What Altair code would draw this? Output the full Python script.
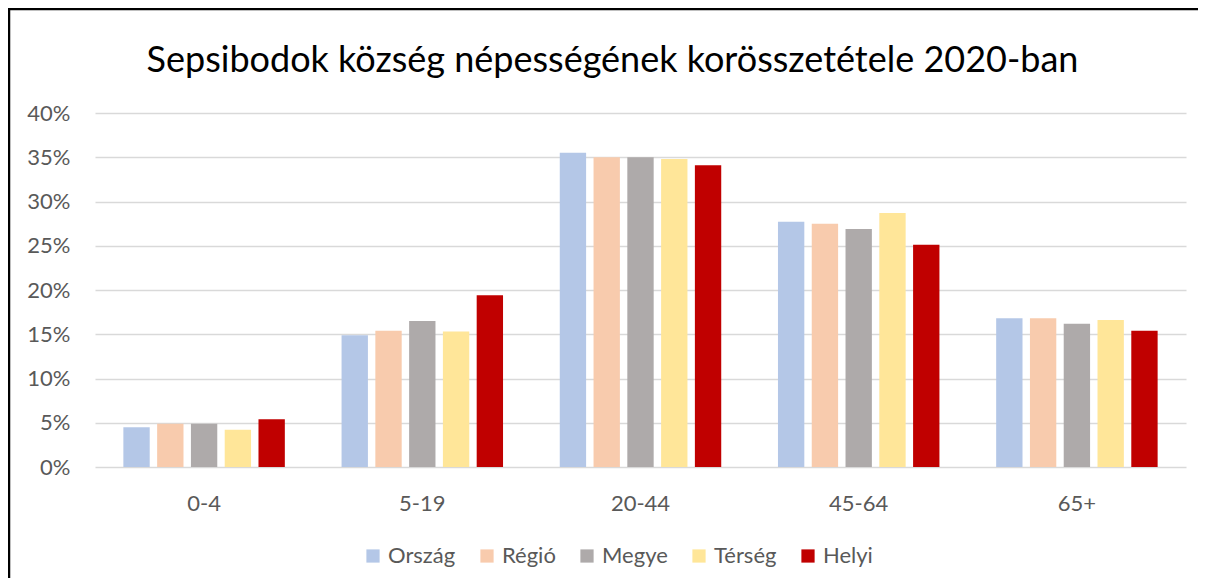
import altair as alt
import pandas as pd

ages = ["0-4", "5-19", "20-44", "45-64", "65+"]
series = ["Ország", "Régió", "Megye", "Térség", "Helyi"]
colors = ["#b4c7e7", "#f8cbad", "#aeaaaa", "#ffe699", "#c00000"]

orszag = [4.5, 14.9, 35.5, 27.7, 16.8]
regio = [4.9, 15.4, 35.0, 27.5, 16.8]
megye = [4.9, 16.5, 35.0, 26.9, 16.2]
terseg = [4.2, 15.3, 34.8, 28.7, 16.6]
helyi = [5.4, 19.4, 34.1, 25.1, 15.4]

values = [orszag, regio, megye, terseg, helyi]
rows = []
for s, vals in zip(series, values):
    for a, v in zip(ages, vals):
        rows.append({"age": a, "series": s, "value": v / 100})
df = pd.DataFrame(rows)

W, H = 1091, 354
FONT = "Lato"

bars = alt.Chart(df).mark_bar().encode(
    x=alt.X("age:N", sort=ages, title=None,
            scale=alt.Scale(paddingInner=0.26, paddingOuter=0.13),
            axis=alt.Axis(labelAngle=0, ticks=False, domain=False, labelPadding=26,
                          labelFontSize=22, labelColor="#595959", labelFont=FONT)),
    xOffset=alt.XOffset("series:N", sort=series,
                        scale=alt.Scale(paddingInner=0.22, paddingOuter=0)),
    y=alt.Y("value:Q", title=None,
            scale=alt.Scale(domain=[0, 0.4]),
            axis=alt.Axis(format=".0%", values=[0, .05, .1, .15, .2, .25, .3, .35, .4],
                          ticks=False, domain=False, labelPadding=25,
                          labelFontSize=22, labelColor="#595959", labelFont=FONT,
                          gridColor="#d9d9d9", gridWidth=1.5)),
    color=alt.Color("series:N", sort=series,
                    scale=alt.Scale(domain=series, range=colors),
                    legend=alt.Legend(title=None, orient="none", direction="horizontal",
                                      legendX=267, legendY=432, symbolType="square",
                                      symbolSize=175, symbolStrokeWidth=0,
                                      labelFontSize=22, labelColor="#595959",
                                      labelFont=FONT, columnPadding=20, labelOffset=4)),
)

frame_df = pd.DataFrame({"a": [0]})
left_border = alt.Chart(frame_df).mark_rule(color="#000000", strokeWidth=2.5).encode(
    x=alt.value(-86), y=alt.value(-104), y2=alt.value(H + 120))
top_border = alt.Chart(frame_df).mark_rule(color="#000000", strokeWidth=2.5).encode(
    x=alt.value(-87), x2=alt.value(W + 40), y=alt.value(-104))

chart = alt.layer(bars, left_border, top_border).properties(
    width=W, height=H,
    title=alt.TitleParams("Sepsibodok község népességének korösszetétele 2020-ban",
                          font=FONT, fontSize=36, fontWeight="normal", color="#000000",
                          anchor="middle", frame="group", baseline="alphabetic",
                          dx=-28, dy=100, offset=0),
    padding={"left": 87, "top": 105, "right": 12, "bottom": 111},
    autosize=alt.AutoSizeParams(type="none"),
).configure(background="white").configure_view(stroke=None)

chart.save("out.html", embed_options={"renderer": "svg", "actions": False})
